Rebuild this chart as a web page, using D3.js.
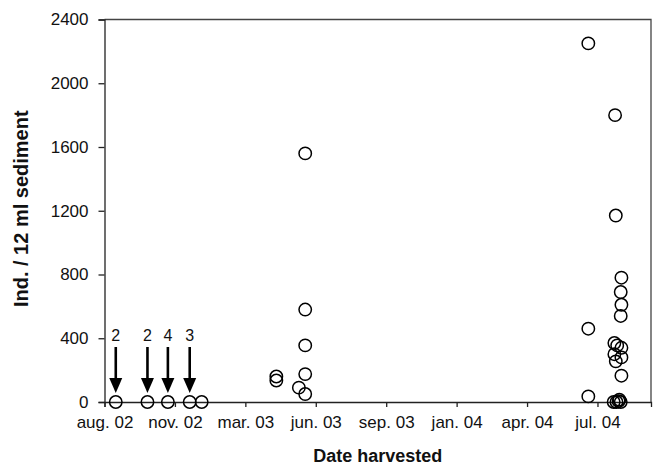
<!DOCTYPE html>
<html>
<head>
<meta charset="utf-8">
<script src="https://cdn.jsdelivr.net/npm/d3@7"></script>
<style>
  body { margin: 0; background: #fff; }
  text { font-family: "Liberation Sans", Arial, sans-serif; fill: #111; }
</style>
</head>
<body>
<div id="chart"></div>
<script>
// samples: harvest date + abundance
const sampleDates = [
  "2002-09-05", "2002-10-20", "2002-11-18", "2002-12-19", "2003-01-05",
  "2003-04-21", "2003-04-21", "2003-05-23",
  "2003-06-01", "2003-06-01", "2003-06-01", "2003-06-01", "2003-06-01",
  "2004-07-07", "2004-07-07", "2004-07-07",
  "2004-08-14", "2004-08-15", "2004-08-23", "2004-08-22", "2004-08-23", "2004-08-22",
  "2004-08-13", "2004-08-17", "2004-08-23", "2004-08-13", "2004-08-23", "2004-08-15",
  "2004-08-23", "2004-08-12", "2004-08-16", "2004-08-19", "2004-08-22", "2004-08-20"
];
const sampleValues = [
  0, 0, 0, 0, 0,
  160, 135, 90,
  1560, 580, 355, 175, 50,
  2250, 460, 35,
  1800, 1170, 780, 690, 610, 540,
  370, 355, 340, 300, 280, 255,
  165, 0, 0, 5, 0, 15
];

// arrows over the early zero samples, with number of samples
const arrowDates = ["2002-09-05", "2002-10-20", "2002-11-18", "2002-12-19"];
const arrowCounts = [2, 2, 4, 3];

const yTicks = [0, 400, 800, 1200, 1600, 2000, 2400];
const xTickDates = ["2002-08-20", "2002-11-28", "2003-03-08", "2003-06-16",
                    "2003-09-24", "2004-01-02", "2004-04-11", "2004-07-20"];
const xTickLabels = ["aug. 02", "nov. 02", "mar. 03", "jun. 03",
                     "sep. 03", "jan. 04", "apr. 04", "jul. 04"];
const xDomain = ["2002-08-20", "2004-10-04"];

const parse = d3.utcParse("%Y-%m-%d");

let margin = {top: 19.5, right: 3, bottom: 72, left: 104.5},
    W = 654, H = 474,
    width = W - margin.left - margin.right,
    height = H - margin.top - margin.bottom;

let svg = d3.select("#chart").append("svg")
    .attr("width", W)
    .attr("height", H)
    .append("g")
    .attr("transform", "translate(" + margin.left + "," + margin.top + ")");

let x = d3.scaleUtc()
    .domain(xDomain.map(parse))
    .range([0, width]);

let y = d3.scaleLinear()
    .domain([0, 2400])
    .range([height, 0]);

// frame (top + right)
svg.append("path")
    .attr("d", "M0,0H" + width + "V" + height)
    .attr("fill", "none")
    .attr("stroke", "#444")
    .attr("stroke-width", 1.3);

svg.append("g")
    .call(d3.axisLeft(y).tickValues(yTicks).tickSize(6).tickPadding(10).tickFormat(d3.format("d")));

svg.append("g")
    .attr("transform", "translate(0," + height + ")")
    .call(d3.axisBottom(x)
        .tickValues(xTickDates.map(parse))
        .tickSize(5).tickPadding(9)
        .tickFormat((d, i) => xTickLabels[i]));

svg.selectAll(".domain, .tick line")
    .attr("stroke", "#222")
    .attr("stroke-width", 1.3);
svg.selectAll(".tick text")
    .style("font-size", "17px")
    .attr("fill", "#111");

// circles
svg.append("g").selectAll("circle")
    .data(sampleDates.map((d, i) => ({date: parse(d), v: sampleValues[i]})))
    .enter().append("circle")
    .attr("cx", d => x(d.date))
    .attr("cy", d => y(d.v))
    .attr("r", 6.2)
    .attr("fill", "none")
    .attr("stroke", "#000")
    .attr("stroke-width", 1.5);

// arrows
let arrows = svg.append("g").selectAll("g")
    .data(arrowDates.map((d, i) => ({date: parse(d), n: arrowCounts[i]})))
    .enter().append("g")
    .attr("transform", d => "translate(" + x(d.date) + "," + y(0) + ")");

arrows.append("line")
    .attr("y1", -55)
    .attr("y2", -22)
    .attr("stroke", "#000")
    .attr("stroke-width", 2.6);

arrows.append("path")
    .attr("d", "M-6.5,-24L6.5,-24L0,-9Z")
    .attr("fill", "#000");

arrows.append("text")
    .attr("y", -61)
    .attr("text-anchor", "middle")
    .style("font-size", "16px")
    .text(d => d.n);

// axis titles
svg.append("text")
    .attr("transform", "translate(-77," + (height / 2 - 2) + ") rotate(-90)")
    .attr("text-anchor", "middle")
    .style("font-size", "20px")
    .style("font-weight", "bold")
    .text("Ind. / 12 ml sediment");

svg.append("text")
    .attr("x", width / 2)
    .attr("y", height + 60)
    .attr("text-anchor", "middle")
    .style("font-size", "18px")
    .style("font-weight", "bold")
    .text("Date harvested");
</script>
</body>
</html>
